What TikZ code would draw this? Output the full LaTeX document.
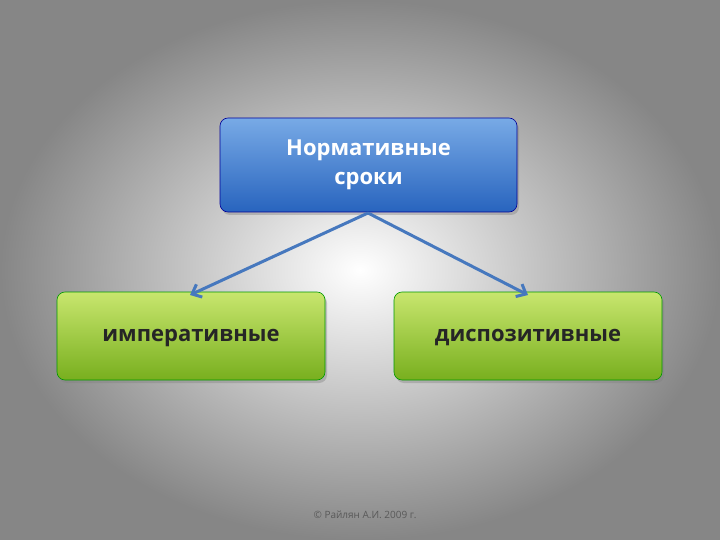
\documentclass[tikz,border=0pt]{standalone}
\usepackage{fontspec}
\setmainfont{Open Sans}
\usetikzlibrary{arrows.meta,shadows}
\begin{document}
\begin{tikzpicture}[x=1pt,y=-1pt,
  box/.style={rounded corners=8pt,draw=#1!60!black,line width=0.6pt,drop shadow={shadow xshift=2pt,shadow yshift=-3pt,opacity=0.4}},
  lbl/.style={font=\fontsize{22}{29}\selectfont\bfseries},
  conn/.style={draw={rgb,255:red,70;green,120;blue,190},line width=3pt,-{Straight Barb[length=8pt,width=14pt]}}]
\shade[inner color=white,outer color=gray!95,shading=radial] (0,0) rectangle (720,540);
\useasboundingbox (0,0) rectangle (720,540);
\definecolor{bl1}{RGB}{120,170,230}\definecolor{bl2}{RGB}{40,100,190}
\definecolor{gr1}{RGB}{200,230,110}\definecolor{gr2}{RGB}{120,175,30}
\shade[box=blue,top color=bl1,bottom color=bl2] (220,118) rectangle (517,212);
\node[lbl,text=white,align=center] (top) at (368.5,165) {Нормативные\\сроки};
\shade[box=green,top color=gr1,bottom color=gr2] (57,292) rectangle (325,380);
\node[lbl,text=black!85] (imp) at (191,338) {императивные};
\shade[box=green,top color=gr1,bottom color=gr2] (394,292) rectangle (662,380);
\node[lbl,text=black!85] (dis) at (528,338) {диспозитивные};
\coordinate (s) at (368,213);
\coordinate (a1) at (190,295);
\coordinate (a2) at (528,295);
\draw[conn] (s) -- (a1);
\draw[conn] (s) -- (a2);
\node[font=\fontsize{10}{12}\selectfont,text=gray!70!black] (foot) at (365,515) {© Райлян А.И. 2009 г.};
\end{tikzpicture}
\end{document}
